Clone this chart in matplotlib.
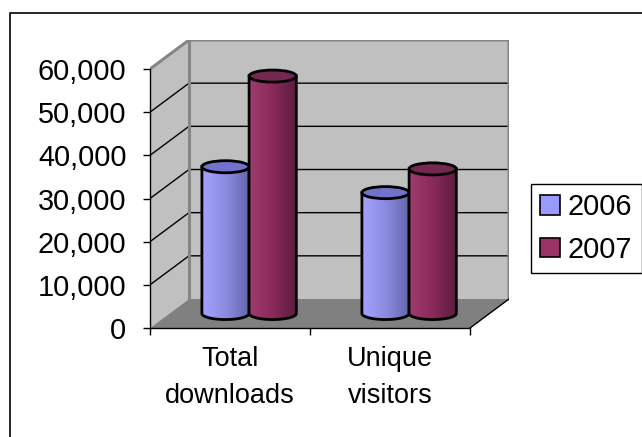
import numpy as np
import matplotlib
matplotlib.use("Agg")
import matplotlib.pyplot as plt
from matplotlib.patches import Polygon, Ellipse, Rectangle, Patch
from matplotlib.colors import LinearSegmentedColormap

categories = ["Total\ndownloads", "Unique\nvisitors"]
years = ["2006", "2007"]
values_2006 = [34000, 28000]
values_2007 = [55000, 33500]
yticks = [0, 10000, 20000, 30000, 40000, 50000, 60000]

plt.rcParams['font.family'] = ['Liberation Sans', 'DejaVu Sans']
plt.rcParams['font.size'] = 19.5

W, H = 642, 437
fig = plt.figure(figsize=(W / 100, H / 100), dpi=100)

# oblique "3d" depth, in data units
DX = 39 / 160
DY = 29 * 60000 / 259
YMAX = yticks[-1]
ELL_H = 2800

ax = fig.add_axes([150 / W, (H - 328) / H, (2 + DX) * 160 / W, 288 / H])
ax.patch.set_visible(False)

wall = '#c0c0c0'
edge = '#858585'

# side wall, back wall, floor
ax.add_patch(Polygon([(0, 0), (0, YMAX), (DX, YMAX + DY), (DX, DY)],
                     facecolor=wall, edgecolor='none', zorder=0))
ax.add_patch(Rectangle((DX, DY), 2, YMAX, facecolor=wall, edgecolor='none', zorder=0))
ax.add_patch(Polygon([(0, 0), (2, 0), (2 + DX, DY), (DX, DY)],
                     facecolor='#808080', edgecolor='none', zorder=0.5))

# gridlines
for v in yticks[1:-1]:
    ax.plot([0, DX, 2 + DX], [v, v + DY, v + DY], color='black', lw=1, zorder=1)

# wall edges
ax.plot([0, DX, 2 + DX, 2 + DX], [YMAX, YMAX + DY, YMAX + DY, DY], color=edge, lw=2.2, zorder=1.2,
        solid_joinstyle='miter')
ax.plot([DX, DX], [DY, YMAX + DY], color=edge, lw=2.2, zorder=1.2)
ax.plot([2, 2 + DX], [0, DY], color='black', lw=1, zorder=1.2)


def cylinder(xc, w, value, colors, top_color, z):
    a = w / 2
    b = ELL_H / 2
    base = DY / 2
    ytop = base + value
    th = np.linspace(np.pi, 2 * np.pi, 80)
    xs = np.concatenate([[xc - a], xc + a * np.cos(th), [xc + a]])
    ys = np.concatenate([[ytop], base + b * np.sin(th), [ytop]])
    pts = np.column_stack([xs, ys])
    clip = Polygon(pts, closed=True, transform=ax.transData)
    cmap = LinearSegmentedColormap.from_list('c', colors)
    grad = np.linspace(0, 1, 200)[None, :]
    im = ax.imshow(grad, extent=(xc - a, xc + a, base - b, ytop), aspect='auto',
                   cmap=cmap, zorder=z, interpolation='bilinear')
    im.set_clip_path(clip)
    ax.add_patch(Polygon(pts, closed=True, facecolor='none', edgecolor='black', lw=2, zorder=z + 0.01))
    ax.add_patch(Ellipse((xc, ytop), w, ELL_H, facecolor=top_color, edgecolor='black', lw=2,
                         zorder=z + 0.02))


blue = ['#a3a3ff', '#8a8ae0', '#6464ac']
maroon = ['#a03c6e', '#8a2a5a', '#5c1c3e']
bw = 0.295
z = 3
for i in range(len(categories)):
    c = i + 0.5 + DX / 2
    cylinder(c - 0.15, bw, values_2006[i], blue, '#7272cc', z)
    cylinder(c + 0.145, bw, values_2007[i], maroon, '#742750', z + 1)
    z += 2

ax.set_xlim(0, 2 + DX)
ax.set_ylim(0, YMAX + DY)

for s in ['top', 'right']:
    ax.spines[s].set_visible(False)
ax.spines['left'].set_bounds(0, YMAX)
ax.spines['bottom'].set_bounds(0, 2)
for s in ['left', 'bottom']:
    ax.spines[s].set_linewidth(1)
    ax.spines[s].set_zorder(2)

ax.set_yticks(yticks, [f"{v:,}" for v in yticks])
ax.tick_params(axis='y', length=5, width=1, pad=12, labelsize=20.8)
ax.set_xticks([0, 1, 2], ['', '', ''])
ax.tick_params(axis='x', which='major', length=5, width=1)
ax.set_xticks([0.5, 1.5], categories, minor=True)
ax.tick_params(axis='x', which='minor', length=0, pad=13)
for t in ax.get_xticklabels(minor=True):
    t.set_linespacing(1.55)

handles = [Patch(facecolor='#9999ff', edgecolor='black', lw=1.2),
           Patch(facecolor='#993366', edgecolor='black', lw=1.2)]
leg = fig.legend(handles, years, loc='upper left', bbox_to_anchor=(531 / W, 1 - 184 / H),
                 bbox_transform=fig.transFigure, frameon=True, fancybox=False, framealpha=1,
                 borderaxespad=0, handlelength=0.68, handleheight=0.68, handletextpad=0.28,
                 borderpad=0.32, labelspacing=0.5, edgecolor='black', fontsize=20.8)
leg.get_frame().set_linewidth(1.0)

# chart area border (runs off the right and bottom edges)
fig.add_artist(Rectangle((10 / W, -0.1), 1.2, (H - 13) / H + 0.1, transform=fig.transFigure,
                         fill=False, edgecolor='black', lw=1.2))

fig.savefig('out.png', dpi=100)
